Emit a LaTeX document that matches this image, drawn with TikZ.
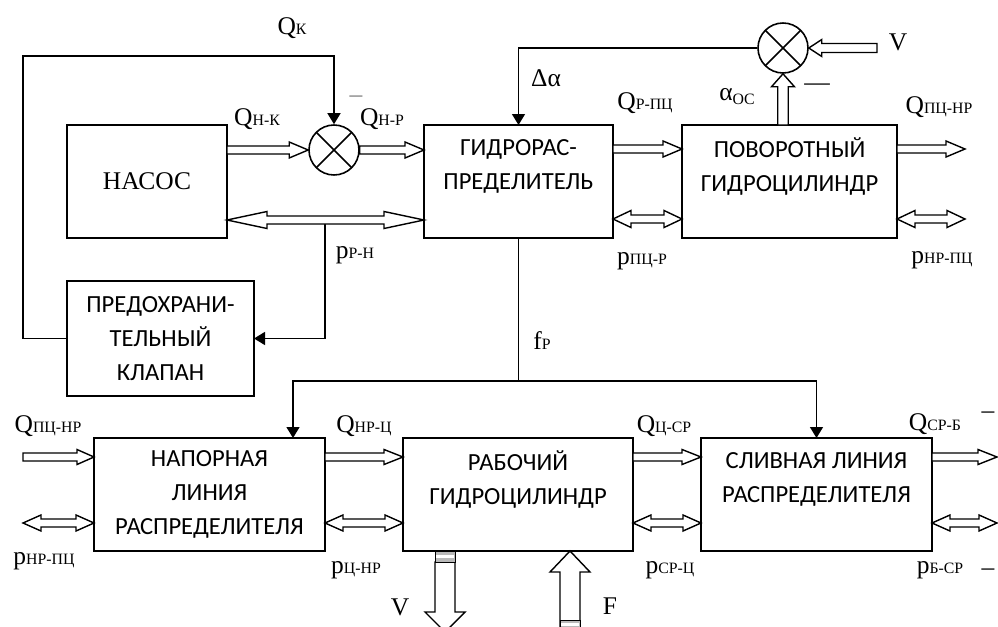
\documentclass[tikz,border=0pt]{standalone}
\usepackage{fontspec}
\setmainfont{Liberation Serif}
\newfontfamily\boxfont{Carlito}
\usetikzlibrary{positioning,arrows.meta,calc}

\begin{document}
\begin{tikzpicture}[
  x=0.2mm, y=-0.2mm,
  box/.style={draw, line width=1pt, align=center, inner sep=0pt, outer sep=0pt, minimum height=22.6mm, font=\boxfont\fontsize{14}{19.5}\selectfont},
  sum/.style={draw, circle, line width=0.9pt, minimum size=10mm, inner sep=0pt, path picture={\draw[line width=0.9pt] (path picture bounding box.north west) -- (path picture bounding box.south east) (path picture bounding box.north east) -- (path picture bounding box.south west);}},
  ctl/.style={line width=0.8pt, -{Triangle[length=2.2mm, width=2.6mm]}},
  lbl/.style={inner sep=0pt, font=\fontsize{14.5}{16}\selectfont},
  hollow/.style n args={3}{line width=0.8pt, fill=white, line join=miter, to path={
    ($(\tikztostart)!#1!90:(\tikztotarget)$)
    -- ($(\tikztotarget)!#3!(\tikztostart)!#1!90:(\tikztotarget)$)
    -- ($(\tikztotarget)!#3!(\tikztostart)!#2!90:(\tikztotarget)$)
    -- (\tikztotarget)
    -- ($(\tikztotarget)!#3!(\tikztostart)!#2!-90:(\tikztotarget)$)
    -- ($(\tikztotarget)!#3!(\tikztostart)!#1!-90:(\tikztotarget)$)
    -- ($(\tikztostart)!#1!-90:(\tikztotarget)$) -- cycle}},
  hollowd/.style n args={3}{line width=0.8pt, fill=white, line join=miter, to path={
    (\tikztostart)
    -- ($(\tikztostart)!#3!(\tikztotarget)!#2!90:(\tikztotarget)$)
    -- ($(\tikztostart)!#3!(\tikztotarget)!#1!90:(\tikztotarget)$)
    -- ($(\tikztotarget)!#3!(\tikztostart)!#1!90:(\tikztotarget)$)
    -- ($(\tikztotarget)!#3!(\tikztostart)!#2!90:(\tikztotarget)$)
    -- (\tikztotarget)
    -- ($(\tikztotarget)!#3!(\tikztostart)!#2!-90:(\tikztotarget)$)
    -- ($(\tikztotarget)!#3!(\tikztostart)!#1!-90:(\tikztotarget)$)
    -- ($(\tikztostart)!#3!(\tikztotarget)!#1!-90:(\tikztotarget)$)
    -- ($(\tikztostart)!#3!(\tikztotarget)!#2!-90:(\tikztotarget)$) -- cycle}}
]
\useasboundingbox (0,0) rectangle (998,627);
\clip (0,0) rectangle (998,627);

% blocks
\node[box, minimum width=32mm, font=\fontsize{14.5}{16}\selectfont] (nasos) at (147,181.5) {НАСОС};
\node[box, minimum width=37.8mm, right=39.4mm of nasos] (gr) {ГИДРОРАС-\\ПРЕДЕЛИТЕЛЬ\\\mbox{}};
\node[box, minimum width=43mm, right=13.8mm of gr] (pc) {ПОВОРОТНЫЙ\\ГИДРОЦИЛИНДР\\\mbox{}};
\node[box, minimum width=37.4mm, minimum height=23mm] (klap) at (160.5,338.5) {ПРЕДОХРАНИ-\\ТЕЛЬНЫЙ\\КЛАПАН};
\node[box, minimum width=46.2mm] (nap) at (209.5,494.5) {НАПОРНАЯ\\ЛИНИЯ\\РАСПРЕДЕЛИТЕЛЯ};
\node[box, minimum width=46mm, right=15.6mm of nap] (rab) {РАБОЧИЙ\\ГИДРОЦИЛИНДР\\\mbox{}};
\node[box, minimum width=46.2mm, right=13.6mm of rab] (sliv) {СЛИВНАЯ ЛИНИЯ\\РАСПРЕДЕЛИТЕЛЯ\\\mbox{}};

% summators
\node[sum] (s1) at (334,150) {};
\node[sum] (s2) at (783,48) {};

\coordinate (qk) at (23,56);
\coordinate (prn) at (325,224);
\coordinate (fp) at (gr.south |- 0,381);
\coordinate (napin) at ($(nap.north east)+(-32,0)$);
\coordinate (vin) at (877,48);

% control lines
\draw[ctl] (klap.west) -| (qk) -| (s1.north);
\draw[ctl] (prn) |- (klap.east);
\draw[ctl] (s2.west) -| (gr.north);
\draw[line width=0.8pt] (gr.south) -- (fp);
\draw[ctl] (fp) -| (napin);
\draw[ctl] (fp) -| (sliv.north);

% flows
\draw[hollow={0.8mm}{1.6mm}{3.8mm}] (nasos.east |- s1.west) to (s1.west);
\draw[hollow={0.8mm}{1.6mm}{3.8mm}] (s1.east) to (gr.west |- s1.east);
\draw[hollowd={0.8mm}{1.7mm}{8mm}] (nasos.east |- 0,220) to (gr.west |- 0,220);
\draw[hollow={0.8mm}{1.6mm}{3.8mm}] (gr.east |- 0,149) to (pc.west |- 0,149);
\draw[hollowd={0.8mm}{1.7mm}{3.6mm}] (gr.east |- 0,219) to (pc.west |- 0,219);
\draw[hollow={0.8mm}{1.6mm}{3.8mm}] (pc.east |- 0,149) to (965,149);
\draw[hollowd={0.8mm}{1.7mm}{3.6mm}] (pc.east |- 0,219) to (965,219);
\draw[hollow={1.05mm}{2.3mm}{2.6mm}] (s2 |- pc.north) to (s2.south);
\draw[hollow={0.9mm}{1.7mm}{2.6mm}] (vin) to (s2.east);

\draw[hollow={0.8mm}{1.5mm}{3.4mm}] (23,457) to (nap.west |- 0,457);
\draw[hollowd={0.8mm}{1.6mm}{3.6mm}] (23,523) to (nap.west |- 0,523);
\draw[hollow={0.8mm}{1.5mm}{3.8mm}] (nap.east |- 0,457) to (rab.west |- 0,457);
\draw[hollowd={0.8mm}{1.6mm}{3.6mm}] (nap.east |- 0,523) to (rab.west |- 0,523);
\draw[hollow={0.8mm}{1.5mm}{3.8mm}] (rab.east |- 0,457) to (sliv.west |- 0,457);
\draw[hollowd={0.8mm}{1.6mm}{3.6mm}] (rab.east |- 0,523) to (sliv.west |- 0,523);
\draw[hollow={0.8mm}{1.5mm}{3.8mm}] (sliv.east |- 0,457) to (997,457);
\draw[hollowd={0.8mm}{1.6mm}{3.6mm}] (sliv.east |- 0,523) to (997,523);

% rod outputs
\coordinate (vtop) at ($(rab.south)+(-73,11)$);
\coordinate (vbot) at ($(rab.south)+(-73,81)$);
\coordinate (ftop) at ($(rab.south)+(52,0)$);
\coordinate (fbot) at ($(rab.south)+(52,90)$);
\draw[hollow={2mm}{4mm}{4mm}] (vtop) to (vbot);
\draw[hollow={2mm}{4mm}{4.2mm}] (fbot) to (ftop);
\draw[fill=gray!55, line width=0.5pt] ($(rab.south)+(-83,0)$) rectangle ($(rab.south)+(-63,11)$);
\fill[white] ($(rab.south)+(-82,4)$) rectangle ($(rab.south)+(-64,7)$);
\draw[fill=gray!55, line width=0.5pt] ($(rab.south)+(42,69)$) rectangle ($(rab.south)+(62,80)$);
\fill[white] ($(rab.south)+(43,72)$) rectangle ($(rab.south)+(61,75)$);

% labels
\node[lbl] (l-qk) at (292,28) {Q{\small К}};
\node[lbl] (l-qnk) at (257,119) {Q{\small Н-К}};
\node[lbl] (l-qnr) at (382,119) {Q{\small Н-Р}};
\node[lbl, text=gray] (l-m1) at (356,99) {–};
\node[lbl] (l-prn) at (355,255) {p{\small Р-Н}};
\node[lbl] (l-da) at (546,78) {Δα};
\node[lbl] (l-qrpc) at (645,103) {Q{\small Р-ПЦ}};
\node[lbl] (l-aoc) at (737,97) {α\raisebox{-0.8mm}{\small OC}};
\node[lbl] (l-m2) at (817,87) {—};
\node[lbl] (l-v1) at (898,42) {V};
\node[lbl] (l-qpcnr) at (939,107) {Q{\small ПЦ-НР}};
\node[lbl] (l-ppcr) at (642,261) {p{\small ПЦ-Р}};
\node[lbl] (l-pnrpc) at (942,260) {p{\small НР-ПЦ}};
\node[lbl] (l-fp) at (542,341) {f{\small Р}};
\node[lbl] (l-qpcnr2) at (48,426) {Q{\small ПЦ-НР}};
\node[lbl] (l-pnrpc2) at (44,561) {p{\small НР-ПЦ}};
\node[lbl] (l-qnrc) at (364,426) {Q{\small НР-Ц}};
\node[lbl] (l-pcnr) at (356,570) {p{\small Ц-НР}};
\node[lbl] (l-v2) at (400,607) {V};
\node[lbl] (l-qcsr) at (664,426) {Q{\small Ц-СР}};
\node[lbl] (l-psrc) at (670,570) {p{\small СР-Ц}};
\node[lbl] (l-f) at (610,606) {F};
\node[lbl] (l-qsrb) at (935,424) {Q{\small СР-Б}};
\node[lbl] (l-m3) at (988,415) {–};
\node[lbl] (l-pbsr) at (940,570) {p{\small Б-СР}};
\node[lbl] (l-m4) at (988,572) {–};
\end{tikzpicture}
\end{document}
